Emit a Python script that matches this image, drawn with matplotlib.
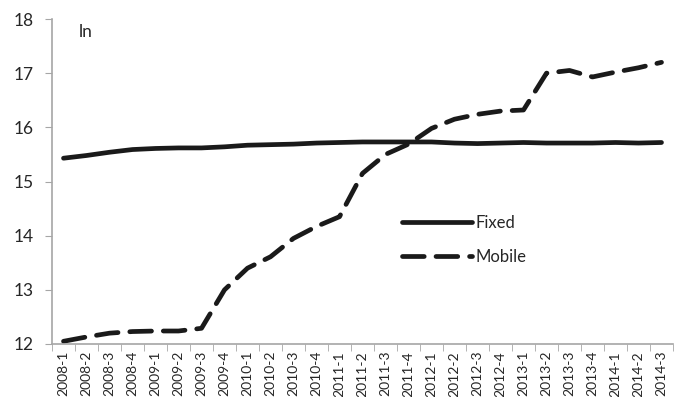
import matplotlib.pyplot as plt
import numpy as np

plt.rcParams['font.family'] = ['Lato', 'DejaVu Sans']

quarters = ['2008-1', '2008-2', '2008-3', '2008-4',
            '2009-1', '2009-2', '2009-3', '2009-4',
            '2010-1', '2010-2', '2010-3', '2010-4',
            '2011-1', '2011-2', '2011-3', '2011-4',
            '2012-1', '2012-2', '2012-3', '2012-4',
            '2013-1', '2013-2', '2013-3', '2013-4',
            '2014-1', '2014-2', '2014-3']

fixed = [15.43, 15.48, 15.54, 15.59, 15.61, 15.62, 15.62, 15.64,
         15.67, 15.68, 15.69, 15.71, 15.72, 15.73, 15.73, 15.73,
         15.73, 15.71, 15.70, 15.71, 15.72, 15.71, 15.71, 15.71,
         15.72, 15.71, 15.72]

mobile = [12.05, 12.13, 12.20, 12.23, 12.24, 12.24, 12.29, 13.00,
          13.40, 13.61, 13.95, 14.17, 14.35, 15.15, 15.50, 15.69,
          15.98, 16.15, 16.24, 16.30, 16.32, 17.00, 17.05, 16.93,
          17.02, 17.10, 17.20]

x = np.arange(len(quarters))
gray = '#a6a6a6'

fig = plt.figure(figsize=(6.86, 3.97), dpi=100)
ax = fig.add_axes([52 / 686, (397 - 344) / 397, (673 - 52) / 686, (344 - 19) / 397])

ax.plot(x, fixed, color='#1a1a1a', lw=3.4, solid_capstyle='round', label='Fixed')
ax.plot(x, mobile, color='#1a1a1a', lw=3.4, dashes=(4.6, 2.5),
        dash_capstyle='round', label='Mobile')

ax.set_xlim(-0.5, len(quarters) - 0.5)
ax.set_ylim(12, 18)
ax.set_yticks(range(12, 19))
ax.set_xticks(x)
ax.set_xticklabels(quarters, rotation=90, fontsize=10, color='#262626')
ax.set_xticks(np.arange(-0.5, len(quarters)), minor=True)
ax.tick_params(axis='x', which='major', length=0, pad=5)
ax.tick_params(axis='x', which='minor', length=5, color=gray, direction='out')
ax.tick_params(axis='y', length=5, color=gray, labelsize=12.5, labelcolor='#262626', pad=8)

for side in ['top', 'right']:
    ax.spines[side].set_visible(False)
for side in ['left', 'bottom']:
    ax.spines[side].set_color(gray)
    ax.spines[side].set_linewidth(1.2)

ax.text(0.043, 0.985, 'ln', transform=ax.transAxes, fontsize=12.5,
        color='#262626', va='top', ha='left')

ax.legend(loc='center left', bbox_to_anchor=(0.54, 0.32), frameon=False,
          handlelength=4.2, handletextpad=0.2, labelspacing=1.05, fontsize=12,
          labelcolor='#262626')

fig.savefig('out.png', dpi=100)
